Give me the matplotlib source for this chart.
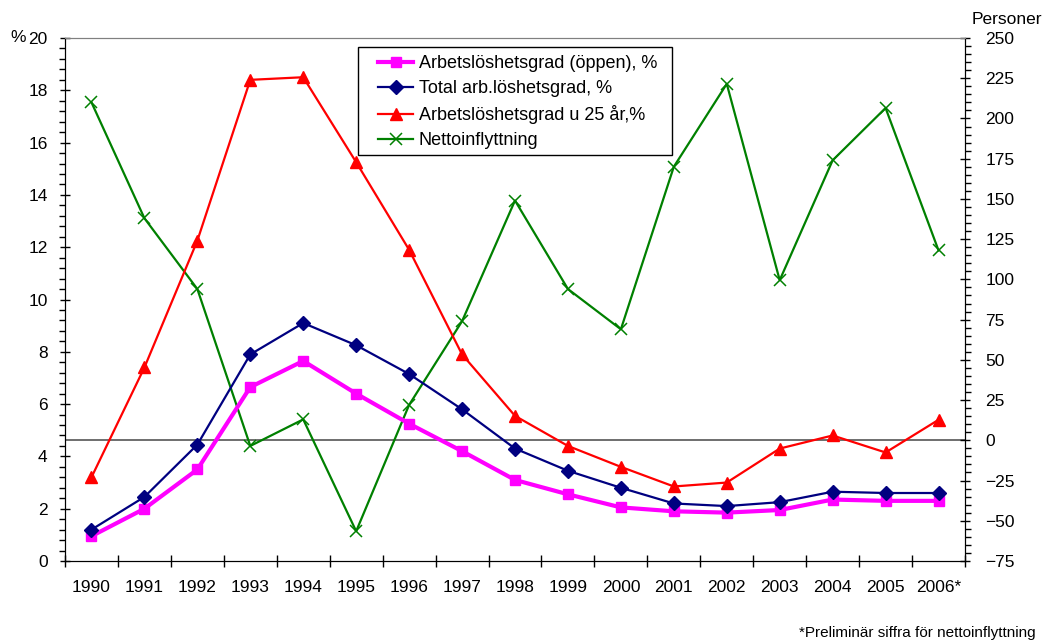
import matplotlib
matplotlib.use("Agg")
import matplotlib.pyplot as plt
from matplotlib.ticker import MultipleLocator, FixedLocator
from matplotlib.patches import Rectangle
import numpy as np

plt.rcParams['font.family'] = ['Liberation Sans', 'DejaVu Sans']

years = ["1990", "1991", "1992", "1993", "1994", "1995", "1996", "1997", "1998",
         "1999", "2000", "2001", "2002", "2003", "2004", "2005", "2006*"]
oppen = [0.95, 2.0, 3.5, 6.65, 7.65, 6.4, 5.25, 4.2, 3.1, 2.55, 2.05, 1.9, 1.85, 1.95, 2.35, 2.3, 2.3]
total = [1.2, 2.45, 4.45, 7.9, 9.1, 8.25, 7.15, 5.8, 4.3, 3.45, 2.8, 2.2, 2.1, 2.25, 2.65, 2.6, 2.6]
unga = [3.2, 7.4, 12.25, 18.4, 18.5, 15.25, 11.9, 7.9, 5.55, 4.4, 3.6, 2.85, 3.0, 4.3, 4.8, 4.15, 5.4]
netto = [210, 138, 94, -3.5, 13, -56.5, 22, 74, 149, 94, 69, 170, 221.5, 99.5, 174, 206.5, 118]

W, H = 1043, 644
fig = plt.figure(figsize=(W/100, H/100), dpi=100)
ax = fig.add_axes([65/W, 1-561/H, 900/W, 523/H])
ax2 = ax.twinx()

x = np.arange(len(years))
h1, = ax.plot(x, oppen, color='#ff00ff', lw=3.0, marker='s', ms=7, mec='#ff00ff', mfc='#ff00ff',
              label='Arbetslöshetsgrad (öppen), %', zorder=3)
h2, = ax.plot(x, total, color='#000080', lw=1.6, marker='D', ms=7.5, mec='#000080', mfc='#000080',
              label='Total arb.löshetsgrad, %', zorder=4)
h3, = ax.plot(x, unga, color='#ff0000', lw=1.6, marker='^', ms=9, mec='#ff0000', mfc='#ff0000',
              label='Arbetslöshetsgrad u 25 år,%', zorder=3)
h4, = ax2.plot(x, netto, color='#008000', lw=1.6, marker='x', ms=8, mew=1.1,
               label='Nettoinflyttning', zorder=3)

ax.set_xlim(-0.5, len(years) - 0.5)
ax.set_ylim(0, 20)
ax2.set_ylim(-75, 250)
ax2.axhline(0, color='#555555', lw=1.2, zorder=1)

ax.yaxis.set_major_locator(MultipleLocator(2))
ax.yaxis.set_minor_locator(MultipleLocator(0.4))
ax2.yaxis.set_major_locator(MultipleLocator(25))
ax2.yaxis.set_minor_locator(MultipleLocator(5))

ax.set_xticks(x)
ax.set_xticklabels(years, fontsize=12.5)
ax.xaxis.set_minor_locator(FixedLocator(np.arange(-0.5, len(years), 1.0)))
ax.tick_params(axis='x', which='major', length=0, pad=14)
ax.tick_params(axis='x', which='minor', length=8, direction='inout', width=1)
ax.tick_params(axis='y', which='major', length=7, direction='inout', labelsize=12.5, width=1, pad=9)
ax.tick_params(axis='y', which='minor', length=4, direction='out', width=1)
ax2.tick_params(axis='y', which='major', length=7, direction='inout', labelsize=12.5, width=1, pad=11)
ax2.tick_params(axis='y', which='minor', length=4, direction='out', width=1)

for a in (ax, ax2):
    a.spines['top'].set_color('#808080')
    a.spines['left'].set_color('black')
    a.spines['right'].set_color('black')
    a.spines['bottom'].set_color('black')

fig.text(10/W, 1-38/H, '%', fontsize=12.5, va='center', ha='left')
fig.text(972/W, 1-20/H, 'Personer', fontsize=12.5, va='center', ha='left')
fig.text(799/W, 1-633/H, '*Preliminär siffra för nettoinflyttning', fontsize=11.0,
         va='center', ha='left')

# legend box
fig.patches.append(Rectangle((358/W, 1-155/H), (672-358)/W, (155-47)/H,
                             transform=fig.transFigure, facecolor='white',
                             edgecolor='black', lw=1, zorder=9))
leg = fig.legend(handles=[h1, h2, h3, h4], loc='upper left',
                 bbox_to_anchor=(378/W, 1-55/H), bbox_transform=fig.transFigure,
                 fontsize=13, frameon=False,
                 borderpad=0, labelspacing=0.45, handlelength=1.95, handletextpad=0.3,
                 borderaxespad=0)
leg.set_zorder(10)
ax.set_zorder(ax2.get_zorder() + 1)
ax.patch.set_visible(False)

fig.savefig('out.png', dpi=100)
